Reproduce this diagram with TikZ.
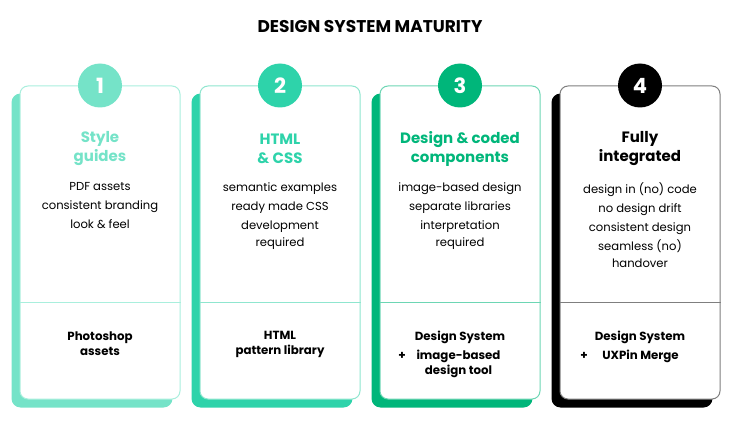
\documentclass[tikz,border=0pt]{standalone}
\usepackage{fontspec}
\setmainfont{Poppins}
\usetikzlibrary{positioning,calc,shapes,backgrounds}
\definecolor{cOne}{HTML}{75E3C8}
\definecolor{eOne}{HTML}{A9EFDD}
\definecolor{cTwo}{HTML}{2ED3AA}
\definecolor{eTwo}{HTML}{8FE6CF}
\definecolor{cThree}{HTML}{00B67A}
\definecolor{eThree}{HTML}{6DD6B4}
\definecolor{cFour}{HTML}{000000}
\definecolor{eFour}{HTML}{7F7F7F}
\tikzset{cardbox/.style={draw, fill=white, rounded corners=8pt, line width=1pt, minimum width=160pt, minimum height=313pt, inner sep=0pt}}
\tikzset{backing/.style={rounded corners=9pt}}
\tikzset{numdot/.style={circle, minimum size=44pt, inner sep=0pt, text=white, font={\fontsize{21}{21}\selectfont\bfseries}}}
\tikzset{headtxt/.style={align=center, inner sep=0pt, font={\fontsize{15}{19}\selectfont\bfseries}}}
\tikzset{bodytxt/.style={align=center, inner sep=0pt, anchor=north, font={\fontsize{11.6}{19}\selectfont}, execute at begin node=\strut}}
\tikzset{foottxt/.style={align=center, inner sep=0pt, font={\fontsize{11.8}{15}\selectfont\bfseries}}}
\begin{document}
\begin{tikzpicture}[x=1pt, y=-1pt]
  \useasboundingbox (0,0) rectangle (740,428);
  \node[font={\fontsize{17}{17}\selectfont\bfseries}] (title) at (370,27) {DESIGN SYSTEM MATURITY};
  % cards
  \node[cardbox, draw=eOne] (c1) at (100,242.5) {};
  \node[cardbox, draw=eTwo] (c2) at (280,242.5) {};
  \node[cardbox, draw=eThree] (c3) at (460,242.5) {};
  \node[cardbox, draw=eFour] (c4) at (640,242.5) {};
  \begin{scope}[on background layer]
    \fill[backing, cOne] ([shift={(-8,8)}]c1.south west) rectangle ([shift={(-8,8)}]c1.north east);
    \fill[backing, cTwo] ([shift={(-8,8)}]c2.south west) rectangle ([shift={(-8,8)}]c2.north east);
    \fill[backing, cThree] ([shift={(-8,8)}]c3.south west) rectangle ([shift={(-8,8)}]c3.north east);
    \fill[backing, cFour] ([shift={(-8,8)}]c4.south west) rectangle ([shift={(-8,8)}]c4.north east);
  \end{scope}
  \draw[eOne, line width=1pt] (c1.west |- 0,302) -- (c1.east |- 0,302);
  \draw[eTwo, line width=1pt] (c2.west |- 0,302) -- (c2.east |- 0,302);
  \draw[eThree, line width=1pt] (c3.west |- 0,302) -- (c3.east |- 0,302);
  \draw[eFour, line width=1pt] (c4.west |- 0,302) -- (c4.east |- 0,302);
  % numbers
  \node[numdot, fill=cOne] (n1) at (c1.north) {1};
  \node[numdot, fill=cTwo] (n2) at (c2.north) {2};
  \node[numdot, fill=cThree] (n3) at (c3.north) {3};
  \node[numdot, fill=cFour] (n4) at (c4.north) {4};
  % headings
  \node[headtxt, text=cOne] (h1) at (100,149) {Style\\guides};
  \node[headtxt, text=cTwo] (h2) at (280,149) {HTML\\\& CSS};
  \node[headtxt, text=cThree] (h3) at (460,149) {Design \& coded\\components};
  \node[headtxt] (h4) at (640,149) {Fully\\integrated};
  % descriptions
  \node[bodytxt] (b1) at (100,182) {PDF assets\\consistent branding\\look \& feel};
  \node[bodytxt] (b2) at (280,182) {semantic examples\\ready made CSS\\development\\[-2pt]required};
  \node[bodytxt] (b3) at (460,182) {image-based design\\separate libraries\\interpretation\\[-2pt]required};
  \node[bodytxt] (b4) at (640,182) {design in (no) code\\no design drift\\consistent design\\seamless (no)\\[-2pt]handover};
  % tools
  \node[foottxt] (f1) at (100,344) {Photoshop\\assets};
  \node[foottxt] (f2) at (280,344) {HTML\\pattern library};
  \node[foottxt] (f3) at (460,337) {Design System};
  \node[foottxt] (f3b) at (458.5,363.5) {image-based\\design tool};
  \node[foottxt] (p3) at (402,356) {+};
  \node[foottxt] (f4) at (640,337) {Design System};
  \node[foottxt] (f4b) at (640.5,356) {UXPin Merge};
  \node[foottxt] (p4) at (584,356) {+};
\end{tikzpicture}
\end{document}
